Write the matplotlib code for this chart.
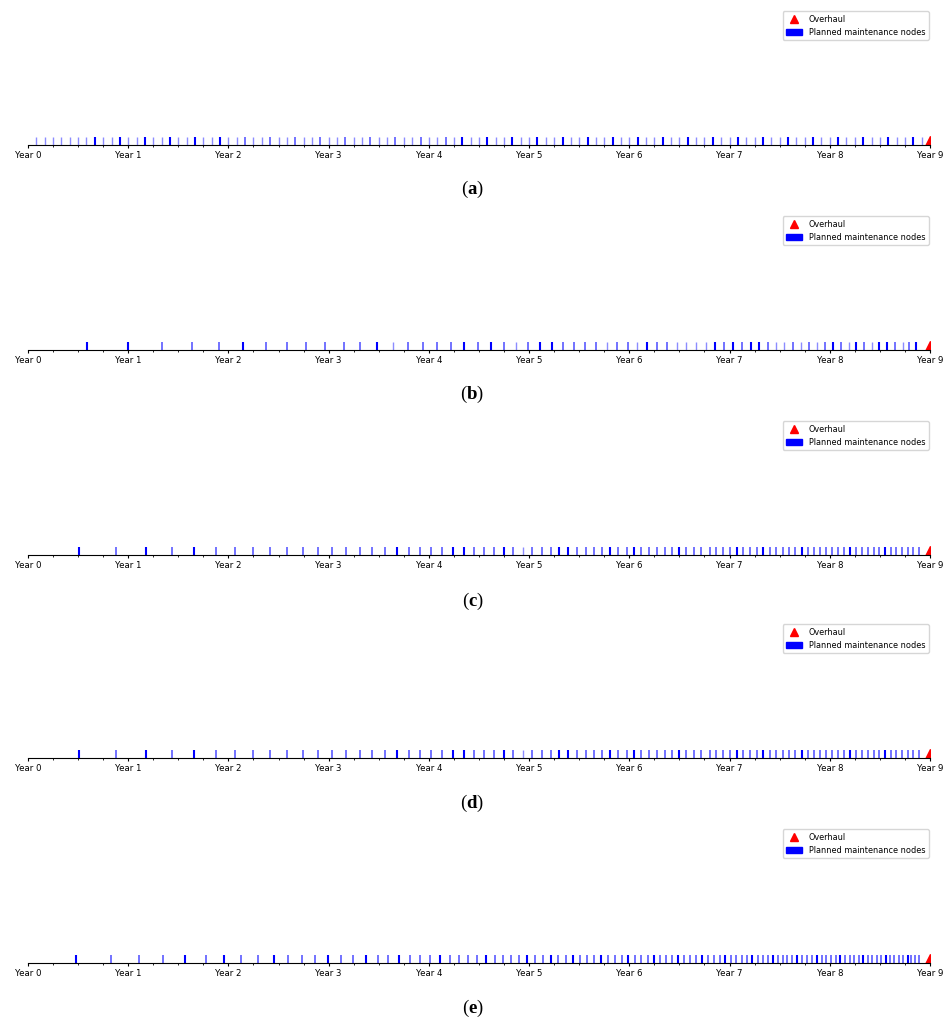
import matplotlib.pyplot as plt
from matplotlib.lines import Line2D
from matplotlib.patches import Patch
# ------------------------------ #

plt.rcParams['mathtext.fontset'] = 'custom'
plt.rcParams['mathtext.bf'] = 'Liberation Serif:bold'

yearTicks = [0, 1, 2, 3, 4, 5, 6, 7, 8, 9]
yearLabels = ['Year 0', 'Year 1', 'Year 2', 'Year 3', 'Year 4', 'Year 5', 'Year 6', 'Year 7', 'Year 8', 'Year 9']
overhaulYear = 9
panelTags = ['a', 'b', 'c', 'd', 'e']

# (a) monthly nodes, given in months
nodesA_months = [
	1, 2, 3, 4, 5, 6, 7, 8, 9, 10, 11, 12, 13, 14, 15, 16, 17, 18, 19, 20,
	21, 22, 23, 24, 25, 26, 27, 28, 29, 30, 31, 32, 33, 34, 35, 36, 37, 38, 39, 40,
	41, 42, 43, 44, 45, 46, 47, 48, 49, 50, 51, 52, 53, 54, 55, 56, 57, 58, 59, 60,
	61, 62, 63, 64, 65, 66, 67, 68, 69, 70, 71, 72, 73, 74, 75, 76, 77, 78, 79, 80,
	81, 82, 83, 84, 85, 86, 87, 88, 89, 90, 91, 92, 93, 94, 95, 96, 97, 98, 99, 100,
	101, 102, 103, 104, 105, 106, 107,
]
levelsA = [
	1, 1, 1, 1, 1, 1, 1, 3, 1, 1, 3, 1, 1, 3, 1, 1, 3, 1, 1, 3,
	1, 1, 3, 1, 1, 2, 1, 1, 2, 1, 1, 2, 1, 1, 2, 1, 1, 2, 1, 1,
	2, 1, 1, 2, 1, 1, 2, 1, 1, 2, 1, 3, 1, 1, 3, 1, 1, 3, 1, 1,
	3, 1, 1, 3, 1, 1, 3, 1, 1, 3, 1, 1, 3, 1, 1, 3, 1, 1, 3, 1,
	1, 3, 1, 1, 3, 1, 1, 3, 1, 1, 3, 1, 1, 3, 1, 1, 3, 1, 1, 3,
	1, 1, 3, 1, 1, 3, 1,
]

nodesB = [
	0.585, 1.00, 1.34, 1.64, 1.91, 2.15, 2.37, 2.58, 2.77, 2.96,
	3.15, 3.31, 3.48, 3.64, 3.79, 3.94, 4.08, 4.22, 4.35, 4.49,
	4.62, 4.75, 4.87, 4.99, 5.11, 5.23, 5.34, 5.45, 5.56, 5.67,
	5.78, 5.88, 5.99, 6.08, 6.18, 6.28, 6.38, 6.48, 6.57, 6.67,
	6.76, 6.85, 6.94, 7.03, 7.12, 7.21, 7.29, 7.38, 7.46, 7.54,
	7.63, 7.71, 7.79, 7.87, 7.95, 8.03, 8.11, 8.19, 8.26, 8.34,
	8.42, 8.49, 8.57, 8.65, 8.73, 8.79, 8.86,
]
levelsB = [
	3, 3, 2, 2, 2, 3, 2, 2, 2, 2,
	2, 2, 3, 1, 2, 2, 2, 2, 3, 2,
	3, 2, 1, 2, 3, 3, 2, 2, 2, 2,
	1, 2, 2, 1, 3, 2, 2, 1, 1, 1,
	1, 3, 2, 3, 2, 3, 3, 2, 1, 1,
	2, 1, 2, 1, 2, 3, 2, 1, 3, 2,
	1, 3, 3, 2, 1, 2, 3,
]

nodesC = [
	0.51, 0.875, 1.175, 1.434, 1.66, 1.876, 2.066, 2.25, 2.415, 2.58,
	2.74, 2.89, 3.03, 3.17, 3.31, 3.43, 3.56, 3.68, 3.80, 3.91,
	4.02, 4.13, 4.24, 4.35, 4.45, 4.55, 4.65, 4.75, 4.84, 4.94,
	5.03, 5.13, 5.22, 5.30, 5.39, 5.48, 5.57, 5.65, 5.73, 5.81,
	5.89, 5.98, 6.05, 6.12, 6.20, 6.28, 6.36, 6.43, 6.50, 6.57,
	6.65, 6.72, 6.80, 6.86, 6.93, 7.00, 7.07, 7.13, 7.20, 7.27,
	7.33, 7.40, 7.46, 7.53, 7.59, 7.65, 7.72, 7.78, 7.84, 7.90,
	7.96, 8.02, 8.08, 8.14, 8.20, 8.26, 8.32, 8.38, 8.44, 8.49,
	8.55, 8.61, 8.66, 8.72, 8.78, 8.83, 8.89,
]
levelsC = [
	3, 2, 3, 2, 3, 2, 2, 2, 2, 2,
	2, 2, 2, 2, 2, 2, 2, 3, 2, 2,
	2, 2, 3, 3, 2, 2, 2, 3, 2, 1,
	2, 2, 2, 3, 3, 2, 2, 2, 2, 3,
	2, 2, 3, 2, 2, 2, 2, 2, 3, 2,
	2, 2, 2, 2, 2, 2, 3, 2, 2, 2,
	3, 2, 2, 2, 2, 2, 3, 2, 2, 2,
	2, 2, 2, 2, 3, 2, 2, 2, 2, 2,
	3, 2, 2, 2, 2, 2, 2,
]

nodesD = list(nodesC)
levelsD = list(levelsC)

nodesE = [
	0.48, 0.83, 1.11, 1.35, 1.57, 1.78, 1.96, 2.13, 2.29, 2.45,
	2.59, 2.73, 2.86, 2.99, 3.12, 3.24, 3.37, 3.49, 3.59, 3.70,
	3.81, 3.91, 4.01, 4.11, 4.21, 4.30, 4.39, 4.48, 4.57, 4.66,
	4.74, 4.82, 4.90, 4.98, 5.06, 5.14, 5.22, 5.29, 5.37, 5.44,
	5.51, 5.58, 5.65, 5.72, 5.79, 5.86, 5.93, 5.99, 6.06, 6.12,
	6.19, 6.25, 6.31, 6.37, 6.43, 6.49, 6.55, 6.61, 6.67, 6.73,
	6.78, 6.84, 6.90, 6.95, 7.01, 7.06, 7.12, 7.17, 7.22, 7.28,
	7.33, 7.38, 7.43, 7.48, 7.53, 7.57, 7.62, 7.67, 7.72, 7.77,
	7.82, 7.87, 7.92, 7.96, 8.01, 8.06, 8.10, 8.15, 8.20, 8.24,
	8.29, 8.33, 8.38, 8.42, 8.47, 8.51, 8.56, 8.60, 8.64, 8.69,
	8.73, 8.78, 8.81, 8.85, 8.89,
]
levelsE = [
	3, 2, 2, 2, 3, 2, 3, 2, 2, 3,
	2, 2, 2, 3, 2, 2, 3, 2, 2, 3,
	2, 2, 2, 3, 2, 2, 2, 2, 3, 2,
	2, 2, 2, 3, 2, 2, 3, 2, 2, 3,
	2, 2, 2, 3, 2, 2, 2, 3, 2, 2,
	2, 3, 2, 2, 2, 3, 2, 2, 2, 3,
	2, 2, 2, 3, 2, 2, 2, 2, 3, 2,
	2, 2, 3, 2, 2, 2, 2, 3, 2, 2,
	2, 3, 2, 2, 2, 2, 3, 2, 2, 2,
	2, 3, 2, 2, 2, 2, 3, 2, 2, 2,
	2, 3, 2, 2, 2,
]
# ------------------------------ #

levelStyle = {
	1: dict(alpha = 0.45, lw = 1.0),
	2: dict(alpha = 0.7, lw = 1.1),
	3: dict(alpha = 1.0, lw = 1.5),
}

W, H = 945, 1018
axisLinePx = [145, 350, 555, 758, 963]
captionPx = [189, 394, 601, 803, 1008]
axLeftPx, axRightPx = 28, 930
axHeightPx = 135


def drawPanel(fig, idx, nodes, levels):
	bottom = 1 - axisLinePx[idx] / H
	ax = fig.add_axes([axLeftPx / W, bottom, (axRightPx - axLeftPx) / W, axHeightPx / H])

	for x, lv in zip(nodes, levels):
		st = levelStyle[lv]
		ax.vlines(x, 0, 0.06, color = '#0000ff', alpha = st['alpha'], lw = st['lw'])

	ax.plot([overhaulYear], [0.03], marker = '^', color = 'red', markersize = 7, linestyle = 'none')

	ax.set_xlim(0, 9)
	ax.set_ylim(0, 1)
	for side in ['left', 'top', 'right']:
		ax.spines[side].set_visible(False)
	ax.spines['bottom'].set_linewidth(0.8)
	ax.set_yticks([])
	ax.set_xticks(yearTicks)
	ax.set_xticklabels(yearLabels, fontsize = 6.2)
	ax.set_xticks([t / 4 for t in range(37)], minor = True)
	ax.tick_params(axis = 'x', which = 'major', length = 2.5, width = 0.8, pad = 2)
	ax.tick_params(axis = 'x', which = 'minor', length = 1.5, width = 0.6)

	handles = [
		Line2D([], [], marker = '^', color = 'red', linestyle = 'none', markersize = 6),
		Patch(facecolor = '#0000ff', edgecolor = '#0000ff'),
	]
	ax.legend(handles, ['Overhaul', 'Planned maintenance nodes'], loc = 'upper right',
		fontsize = 5.9, borderaxespad = 0.15, frameon = True, handlelength = 2.0)

	fig.text(0.5, 1 - captionPx[idx] / H, r'($\mathbf{' + panelTags[idx] + '}$)',
		ha = 'center', va = 'center', fontsize = 13.5, family = 'Liberation Serif')
# ------------------------------ #

if __name__ == '__main__':
	fig = plt.figure(figsize = (W / 100, H / 100), dpi = 100)

	panels = [
		([m / 12 for m in nodesA_months], levelsA),
		(nodesB, levelsB),
		(nodesC, levelsC),
		(nodesD, levelsD),
		(nodesE, levelsE),
	]
	for i, (nodes, levels) in enumerate(panels):
		drawPanel(fig, i, nodes, levels)

	fig.savefig('out.png', dpi = 100)
